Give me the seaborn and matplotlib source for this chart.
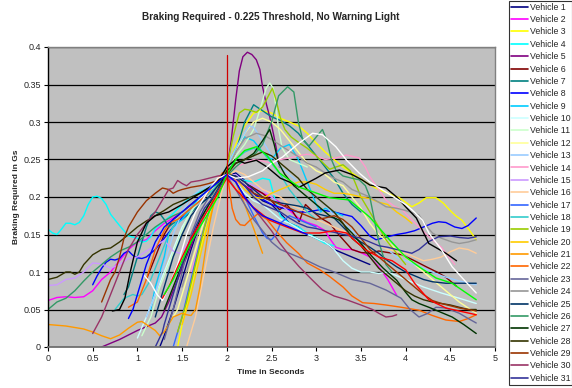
import matplotlib
matplotlib.use("Agg")
import matplotlib.pyplot as plt
from matplotlib.lines import Line2D
from matplotlib.ticker import FormatStrFormatter, MultipleLocator
import numpy as np
import pandas as pd
import seaborn as sns

# ---- braking required (G) against time (s), one trace per vehicle ----
VEHICLE_01 = [(1.25,0.0),(1.3,0.015),(1.4,0.05),(1.5,0.09),(1.6,0.13),(1.7,0.165),(1.8,0.19),(1.9,0.21),(2.0,0.228),(2.1,0.232),(2.2,0.222),(2.3,0.205),(2.4,0.195),(2.5,0.19),(2.6,0.178),(2.7,0.165),(2.8,0.16),(2.9,0.15),(3.0,0.145),(3.1,0.14),(3.2,0.13),(3.3,0.125),(3.4,0.12),(3.5,0.115),(3.6,0.11)]
VEHICLE_02 = [(0,0.062),(0.1,0.066),(0.2,0.067),(0.3,0.066),(0.4,0.067),(0.5,0.075),(0.6,0.09),(0.7,0.1),(0.8,0.115),(0.9,0.13),(1.0,0.14),(1.1,0.143),(1.2,0.155),(1.3,0.165),(1.4,0.172),(1.5,0.18),(1.6,0.19),(1.7,0.198),(1.8,0.205),(1.9,0.215),(2.0,0.225),(2.1,0.222),(2.2,0.215),(2.3,0.21),(2.4,0.205),(2.5,0.2),(2.59,0.193),(2.7,0.182),(2.8,0.172),(2.9,0.166),(3.0,0.162),(3.1,0.155),(3.15,0.145),(3.22,0.133),(3.3,0.13),(3.4,0.13),(3.5,0.126),(3.6,0.12),(3.7,0.107),(3.8,0.09),(3.9,0.069)]
VEHICLE_03 = [(1.45,0.0),(1.5,0.03),(1.6,0.08),(1.7,0.13),(1.8,0.17),(1.9,0.205),(2.0,0.235),(2.1,0.27),(2.2,0.295),(2.3,0.312),(2.4,0.315),(2.5,0.312),(2.6,0.305),(2.7,0.3),(2.8,0.295),(2.9,0.285),(3.0,0.272),(3.1,0.26),(3.2,0.25),(3.3,0.24),(3.4,0.232),(3.5,0.224),(3.6,0.216),(3.7,0.21),(3.8,0.205),(3.93,0.199),(4.0,0.193),(4.07,0.187),(4.15,0.192),(4.23,0.199),(4.34,0.199),(4.42,0.192),(4.49,0.183),(4.56,0.175),(4.63,0.169),(4.7,0.158),(4.79,0.143)]
VEHICLE_04 = [(0,0.157),(0.05,0.152),(0.1,0.15),(0.15,0.157),(0.2,0.165),(0.25,0.165),(0.3,0.163),(0.35,0.166),(0.4,0.175),(0.45,0.19),(0.5,0.2),(0.55,0.201),(0.6,0.198),(0.65,0.19),(0.7,0.177),(0.8,0.162),(0.85,0.155),(0.9,0.148),(1.0,0.145),(1.05,0.14),(1.1,0.141),(1.15,0.147),(1.2,0.158),(1.3,0.168),(1.4,0.178),(1.5,0.19),(1.6,0.2),(1.7,0.207),(1.8,0.212),(1.9,0.22),(2.0,0.228),(2.1,0.225),(2.2,0.222),(2.3,0.22),(2.4,0.225),(2.48,0.223),(2.55,0.192),(2.6,0.175),(2.7,0.165),(2.8,0.16),(2.9,0.152),(3.0,0.145),(3.1,0.138),(3.2,0.135)]
VEHICLE_05 = [(0.6,0.0),(0.7,0.005),(0.8,0.01),(0.9,0.016),(1.0,0.022),(1.1,0.027),(1.2,0.032),(1.27,0.04),(1.35,0.06),(1.45,0.09),(1.55,0.12),(1.65,0.15),(1.75,0.175),(1.85,0.195),(1.95,0.215),(2.0,0.235),(2.05,0.276),(2.1,0.33),(2.14,0.368),(2.18,0.387),(2.23,0.393),(2.28,0.39),(2.33,0.383),(2.37,0.37),(2.4,0.347),(2.44,0.325),(2.48,0.307),(2.52,0.285),(2.55,0.267),(2.59,0.24)]
VEHICLE_06 = [(1.1,0.09),(1.2,0.12),(1.3,0.15),(1.4,0.17),(1.5,0.18),(1.6,0.19),(1.7,0.2),(1.8,0.21),(1.9,0.22),(2.0,0.23),(2.1,0.228),(2.2,0.22),(2.3,0.212),(2.4,0.205),(2.5,0.195),(2.59,0.183),(2.67,0.19),(2.74,0.18),(2.81,0.167),(2.88,0.19),(2.95,0.182),(3.05,0.172),(3.15,0.165),(3.25,0.15),(3.4,0.13),(3.5,0.126),(3.6,0.125),(3.7,0.128),(3.8,0.126),(3.96,0.123),(4.1,0.115),(4.23,0.107),(4.35,0.1),(4.45,0.093),(4.57,0.081)]
VEHICLE_07 = [(0.85,0.07),(0.9,0.08),(1.0,0.12),(1.1,0.16),(1.15,0.175),(1.2,0.18),(1.25,0.178),(1.3,0.17),(1.35,0.16),(1.4,0.165),(1.5,0.17),(1.6,0.18),(1.7,0.19),(1.8,0.2),(1.9,0.21),(2.0,0.228),(2.1,0.26),(2.2,0.3),(2.3,0.323),(2.4,0.315),(2.5,0.307),(2.6,0.302),(2.7,0.295),(2.8,0.285),(2.9,0.27),(3.0,0.255),(3.1,0.24),(3.2,0.225),(3.3,0.205),(3.4,0.19),(3.5,0.18)]
VEHICLE_08 = [(0.5,0.083),(0.55,0.095),(0.6,0.105),(0.65,0.113),(0.7,0.117),(0.75,0.116),(0.8,0.118),(0.85,0.125),(0.9,0.128),(0.95,0.122),(1.0,0.119),(1.05,0.118),(1.1,0.12),(1.2,0.13),(1.3,0.145),(1.4,0.16),(1.5,0.173),(1.6,0.185),(1.7,0.195),(1.8,0.205),(1.9,0.215),(2.0,0.232),(2.1,0.225),(2.2,0.215),(2.3,0.205),(2.4,0.197),(2.5,0.19),(2.6,0.186),(2.7,0.183),(2.8,0.18),(2.9,0.18),(3.04,0.183),(3.2,0.18),(3.3,0.177),(3.4,0.174),(3.5,0.162),(3.6,0.148),(3.67,0.143),(3.8,0.147),(3.9,0.15),(4.0,0.152),(4.1,0.155),(4.2,0.16),(4.3,0.165),(4.37,0.167),(4.45,0.166),(4.55,0.16),(4.63,0.158),(4.7,0.162),(4.79,0.172)]
VEHICLE_09 = [(1.15,0.05),(1.2,0.08),(1.3,0.12),(1.35,0.15),(1.4,0.16),(1.45,0.165),(1.5,0.17),(1.6,0.185),(1.7,0.2),(1.8,0.21),(1.9,0.222),(2.0,0.24),(2.1,0.265),(2.2,0.28),(2.3,0.275),(2.4,0.26),(2.5,0.25),(2.6,0.265),(2.7,0.27),(2.8,0.25),(2.9,0.22),(3.0,0.19),(3.05,0.18),(3.1,0.185),(3.2,0.18),(3.3,0.175)]
VEHICLE_10 = [(1.0,0.012),(1.1,0.04),(1.2,0.07),(1.3,0.1),(1.4,0.13),(1.5,0.16),(1.6,0.18),(1.7,0.198),(1.85,0.213),(2.0,0.23),(2.1,0.22),(2.2,0.205),(2.3,0.195),(2.4,0.19),(2.5,0.18),(2.6,0.17),(2.7,0.165),(2.8,0.158),(2.9,0.15),(3.0,0.145),(3.1,0.14),(3.2,0.13),(3.3,0.115),(3.4,0.105),(3.5,0.1),(3.6,0.1),(3.7,0.098),(3.8,0.1),(3.9,0.095),(4.0,0.09),(4.2,0.08),(4.4,0.072),(4.6,0.065),(4.79,0.058)]
VEHICLE_11 = [(1.05,0.015),(1.15,0.04),(1.25,0.08),(1.35,0.11),(1.45,0.14),(1.55,0.17),(1.65,0.19),(1.75,0.2),(1.85,0.21),(2.0,0.235),(2.1,0.255),(2.2,0.27),(2.3,0.29),(2.38,0.32),(2.44,0.345),(2.48,0.352),(2.52,0.345),(2.55,0.32),(2.58,0.29),(2.62,0.265),(2.7,0.25),(2.8,0.245),(2.9,0.24)]
VEHICLE_12 = [(1.35,0.03),(1.45,0.05),(1.55,0.09),(1.65,0.13),(1.75,0.17),(1.85,0.2),(2.0,0.235),(2.1,0.26),(2.2,0.285),(2.3,0.3),(2.4,0.305),(2.5,0.3),(2.6,0.29),(2.7,0.275),(2.8,0.26),(2.9,0.245),(3.0,0.235),(3.1,0.23),(3.2,0.22),(3.3,0.215),(3.4,0.2),(3.5,0.185),(3.6,0.165),(3.7,0.15),(3.8,0.14),(3.9,0.13),(4.0,0.12),(4.1,0.11),(4.2,0.1),(4.3,0.09),(4.4,0.08),(4.5,0.07),(4.6,0.06),(4.7,0.052),(4.79,0.045)]
VEHICLE_13 = [(1.1,0.04),(1.2,0.07),(1.3,0.11),(1.4,0.15),(1.5,0.18),(1.6,0.2),(1.7,0.21),(1.8,0.215),(1.9,0.22),(2.0,0.24),(2.1,0.265),(2.2,0.285),(2.25,0.295),(2.3,0.293),(2.4,0.275),(2.5,0.255),(2.6,0.24),(2.7,0.23),(2.8,0.22),(2.9,0.21),(3.0,0.2),(3.1,0.19),(3.2,0.175),(3.3,0.165),(3.4,0.155),(3.5,0.145),(3.6,0.14),(3.7,0.135),(3.8,0.13),(3.9,0.12),(4.0,0.115),(4.2,0.105),(4.4,0.095),(4.6,0.088),(4.79,0.083)]
VEHICLE_14 = [(1.6,0.1),(1.7,0.14),(1.8,0.18),(1.9,0.21),(2.0,0.23),(2.1,0.24),(2.2,0.245),(2.3,0.25),(2.4,0.248),(2.5,0.245),(2.6,0.25),(2.7,0.252),(2.8,0.255),(2.9,0.257),(3.0,0.255),(3.1,0.25),(3.22,0.252),(3.34,0.256),(3.48,0.252),(3.55,0.24),(3.6,0.227),(3.7,0.21),(3.78,0.196),(3.87,0.188),(3.96,0.183),(4.05,0.172),(4.15,0.16),(4.26,0.147),(4.4,0.133),(4.55,0.11)]
VEHICLE_15 = [(0,0.082),(0.1,0.083),(0.2,0.09),(0.3,0.092),(0.4,0.1),(0.5,0.112),(0.6,0.111),(0.7,0.105),(0.8,0.11),(0.9,0.118),(1.0,0.12),(1.1,0.128),(1.2,0.135),(1.3,0.142),(1.35,0.135),(1.4,0.128),(1.47,0.125),(1.55,0.135),(1.65,0.155),(1.75,0.175),(1.85,0.195),(1.93,0.212),(2.0,0.228),(2.1,0.23),(2.2,0.22),(2.3,0.215),(2.4,0.21),(2.5,0.2),(2.6,0.19),(2.7,0.18)]
VEHICLE_16 = [(1.55,0.0),(1.65,0.04),(1.75,0.1),(1.85,0.16),(1.95,0.21),(2.0,0.228),(2.1,0.235),(2.2,0.23),(2.3,0.22),(2.4,0.21),(2.5,0.205),(2.6,0.2),(2.7,0.19),(2.8,0.185),(2.9,0.18),(3.0,0.17),(3.2,0.16),(3.4,0.15),(3.6,0.14),(3.8,0.13),(4.0,0.125),(4.1,0.12),(4.2,0.115),(4.3,0.117),(4.4,0.12),(4.5,0.127),(4.6,0.132),(4.7,0.13),(4.79,0.125)]
VEHICLE_17 = [(1.4,0.0),(1.5,0.04),(1.6,0.09),(1.7,0.14),(1.8,0.18),(1.9,0.21),(2.0,0.23),(2.1,0.22),(2.2,0.2),(2.3,0.175),(2.4,0.152),(2.45,0.145),(2.5,0.143),(2.55,0.15),(2.6,0.165),(2.7,0.175),(2.8,0.17),(2.9,0.165),(3.0,0.16)]
VEHICLE_18 = [(0.75,0.05),(0.85,0.065),(0.95,0.07),(1.0,0.068),(1.05,0.07),(1.15,0.09),(1.25,0.12),(1.35,0.15),(1.45,0.17),(1.55,0.18),(1.65,0.19),(1.75,0.2),(1.85,0.21),(2.0,0.23),(2.1,0.25),(2.2,0.26),(2.3,0.265),(2.4,0.26),(2.5,0.245),(2.6,0.23),(2.7,0.21),(2.8,0.195),(2.9,0.18),(3.0,0.17)]
VEHICLE_19 = [(1.45,0.02),(1.55,0.06),(1.65,0.11),(1.75,0.16),(1.85,0.2),(2.0,0.24),(2.07,0.28),(2.14,0.312),(2.2,0.317),(2.25,0.316),(2.33,0.313),(2.4,0.32),(2.44,0.329),(2.51,0.345),(2.55,0.33),(2.6,0.305),(2.65,0.29),(2.72,0.28),(2.8,0.273),(2.9,0.265),(3.0,0.255),(3.08,0.245),(3.15,0.237),(3.22,0.24),(3.3,0.243),(3.38,0.235),(3.45,0.215),(3.5,0.2),(3.6,0.18),(3.7,0.16),(3.78,0.143),(3.9,0.125),(4.0,0.11)]
VEHICLE_20 = [(1.5,0.03),(1.6,0.07),(1.7,0.12),(1.8,0.17),(1.9,0.205),(2.0,0.23),(2.1,0.225),(2.2,0.21),(2.3,0.2),(2.4,0.198),(2.5,0.205),(2.6,0.21),(2.7,0.215),(2.8,0.22),(2.9,0.22),(3.0,0.217),(3.1,0.21),(3.2,0.205),(3.3,0.205),(3.4,0.203),(3.5,0.2),(3.6,0.198),(3.7,0.193),(3.8,0.19),(3.9,0.18),(4.0,0.172),(4.07,0.165)]
VEHICLE_21 = [(0,0.03),(0.1,0.029),(0.2,0.028),(0.3,0.026),(0.4,0.024),(0.5,0.02),(0.6,0.015),(0.7,0.011),(0.8,0.016),(0.9,0.025),(1.0,0.033),(1.05,0.034),(1.1,0.03),(1.2,0.022),(1.25,0.015),(1.3,0.02),(1.35,0.03),(1.4,0.04),(1.5,0.045),(1.55,0.043),(1.6,0.042),(1.65,0.05),(1.7,0.08),(1.75,0.12),(1.8,0.16),(1.85,0.19),(1.9,0.21),(1.95,0.225),(2.0,0.235),(2.05,0.23),(2.1,0.22),(2.2,0.19),(2.3,0.158),(2.4,0.125)]
VEHICLE_22 = [(0.9,0.053),(1.0,0.06),(1.1,0.09),(1.2,0.13),(1.3,0.155),(1.35,0.165),(1.45,0.17),(1.55,0.18),(1.65,0.19),(1.75,0.2),(1.85,0.215),(1.95,0.232),(2.0,0.235),(2.03,0.21),(2.06,0.185),(2.1,0.17),(2.15,0.163),(2.2,0.162),(2.25,0.168),(2.35,0.178),(2.45,0.17),(2.55,0.155),(2.67,0.139),(2.8,0.125),(2.9,0.112),(3.04,0.103),(3.15,0.094),(3.3,0.08),(3.4,0.068),(3.52,0.059),(3.65,0.058),(3.78,0.056),(3.95,0.053),(4.15,0.049),(4.3,0.042),(4.45,0.036),(4.6,0.034),(4.7,0.038),(4.79,0.043)]
VEHICLE_23 = [(1.3,0.01),(1.4,0.05),(1.5,0.1),(1.6,0.15),(1.7,0.18),(1.8,0.2),(1.9,0.215),(2.0,0.228),(2.1,0.21),(2.2,0.19),(2.3,0.17),(2.4,0.155),(2.5,0.14),(2.6,0.13),(2.7,0.125),(2.8,0.12),(2.9,0.115),(3.04,0.107),(3.2,0.1),(3.4,0.09),(3.6,0.085),(3.78,0.076),(3.95,0.065),(4.05,0.05),(4.15,0.04),(4.25,0.045),(4.34,0.053),(4.45,0.052),(4.6,0.045),(4.7,0.038),(4.79,0.032)]
VEHICLE_24 = [(1.5,0.08),(1.6,0.12),(1.7,0.16),(1.8,0.19),(1.9,0.215),(2.0,0.235),(2.1,0.26),(2.2,0.278),(2.33,0.285),(2.42,0.282),(2.51,0.276),(2.65,0.265),(2.81,0.253),(2.9,0.245),(3.0,0.24),(3.1,0.232),(3.2,0.225),(3.3,0.22),(3.4,0.21),(3.5,0.205),(3.6,0.2),(3.7,0.193),(3.78,0.187),(3.9,0.185),(4.0,0.182),(4.15,0.176),(4.22,0.163),(4.3,0.152),(4.4,0.145),(4.52,0.14),(4.6,0.138),(4.7,0.14),(4.79,0.143)]
VEHICLE_25 = [(1.2,0.04),(1.3,0.08),(1.4,0.12),(1.5,0.15),(1.6,0.175),(1.7,0.19),(1.8,0.2),(1.9,0.215),(2.0,0.23),(2.1,0.228),(2.2,0.22),(2.3,0.21),(2.4,0.2),(2.5,0.195),(2.6,0.192),(2.7,0.19),(2.8,0.188),(2.9,0.185),(3.0,0.178),(3.1,0.175),(3.2,0.172),(3.3,0.16),(3.4,0.148),(3.5,0.14),(3.6,0.133),(3.7,0.125),(3.8,0.115),(3.9,0.107),(4.0,0.1),(4.1,0.095),(4.2,0.09),(4.3,0.087),(4.45,0.085),(4.6,0.085),(4.79,0.085)]
VEHICLE_26 = [(0,0.05),(0.1,0.06),(0.2,0.065),(0.3,0.075),(0.4,0.088),(0.5,0.1),(0.6,0.11),(0.7,0.12),(0.8,0.128),(0.9,0.133),(1.0,0.14),(1.1,0.15),(1.2,0.16),(1.3,0.168),(1.4,0.175),(1.5,0.18),(1.6,0.19),(1.7,0.2),(1.8,0.21),(1.9,0.218),(2.0,0.228),(2.1,0.24),(2.2,0.25),(2.3,0.255),(2.4,0.27),(2.5,0.3),(2.58,0.335),(2.68,0.347),(2.75,0.34),(2.8,0.3),(2.85,0.276),(2.92,0.268),(3.0,0.28),(3.07,0.29),(3.12,0.275),(3.17,0.25),(3.22,0.236),(3.3,0.228),(3.4,0.225),(3.48,0.223),(3.55,0.215),(3.6,0.2),(3.65,0.17),(3.7,0.14),(3.78,0.11),(3.85,0.1)]
VEHICLE_27 = [(1.3,0.05),(1.4,0.08),(1.5,0.11),(1.6,0.14),(1.7,0.17),(1.8,0.19),(1.9,0.21),(2.0,0.235),(2.1,0.245),(2.2,0.25),(2.3,0.258),(2.4,0.275),(2.48,0.29),(2.53,0.27),(2.58,0.245),(2.65,0.23),(2.75,0.215),(2.85,0.205),(2.95,0.195),(3.05,0.185),(3.15,0.175),(3.26,0.169),(3.4,0.152),(3.5,0.138),(3.63,0.12),(3.75,0.105),(3.9,0.089),(4.0,0.073),(4.07,0.063),(4.15,0.058),(4.26,0.053),(4.4,0.046),(4.52,0.04),(4.65,0.03),(4.79,0.018)]
VEHICLE_28 = [(0,0.09),(0.1,0.093),(0.2,0.1),(0.25,0.1),(0.3,0.097),(0.35,0.1),(0.4,0.11),(0.5,0.123),(0.6,0.13),(0.7,0.132),(0.8,0.14),(0.9,0.15),(1.0,0.16),(1.1,0.168),(1.2,0.175),(1.3,0.182),(1.4,0.19),(1.5,0.195),(1.6,0.2),(1.7,0.205),(1.8,0.212),(1.9,0.22),(2.0,0.23),(2.1,0.245),(2.2,0.25),(2.3,0.255),(2.4,0.26),(2.5,0.255),(2.6,0.245),(2.7,0.235),(2.8,0.225),(2.9,0.21),(3.0,0.2),(3.1,0.19),(3.2,0.18),(3.3,0.165),(3.4,0.145),(3.5,0.135),(3.6,0.12),(3.7,0.105),(3.8,0.095),(3.9,0.085),(4.0,0.075),(4.1,0.068),(4.2,0.063),(4.3,0.06),(4.4,0.058),(4.5,0.056),(4.6,0.053),(4.7,0.05),(4.79,0.05)]
VEHICLE_29 = [(0.6,0.06),(0.65,0.075),(0.7,0.09),(0.75,0.1),(0.8,0.12),(0.85,0.145),(0.9,0.16),(1.0,0.18),(1.1,0.195),(1.2,0.205),(1.28,0.212),(1.35,0.21),(1.4,0.205),(1.45,0.208),(1.5,0.21),(1.6,0.213),(1.7,0.215),(1.8,0.218),(1.9,0.222),(2.0,0.228),(2.1,0.225),(2.2,0.215),(2.3,0.205),(2.4,0.2),(2.5,0.195),(2.6,0.19),(2.7,0.185),(2.8,0.18),(2.9,0.175),(3.0,0.17),(3.1,0.172),(3.2,0.175),(3.3,0.17),(3.4,0.16),(3.5,0.145),(3.6,0.13),(3.7,0.12),(3.8,0.11),(3.9,0.1),(4.0,0.09),(4.1,0.08),(4.2,0.07),(4.3,0.062),(4.4,0.058),(4.5,0.055),(4.6,0.052),(4.7,0.05),(4.79,0.048)]
VEHICLE_30 = [(0.5,0.018),(0.6,0.04),(0.7,0.07),(0.8,0.1),(0.9,0.13),(1.0,0.15),(1.1,0.165),(1.2,0.18),(1.3,0.2),(1.35,0.21),(1.4,0.212),(1.45,0.222),(1.5,0.218),(1.55,0.215),(1.6,0.22),(1.7,0.222),(1.8,0.225),(1.9,0.228),(2.0,0.23),(2.1,0.22),(2.2,0.2),(2.3,0.185),(2.4,0.17),(2.5,0.155),(2.59,0.139),(2.7,0.122),(2.81,0.107),(2.95,0.09),(3.07,0.076),(3.2,0.068),(3.34,0.063),(3.5,0.056),(3.63,0.05),(3.7,0.045),(3.78,0.04),(3.85,0.041),(3.9,0.043)]
VEHICLE_31 = [(1.2,0.0),(1.28,0.02),(1.3,0.03),(1.35,0.05),(1.45,0.09),(1.55,0.13),(1.65,0.16),(1.75,0.185),(1.85,0.2),(2.0,0.228),(2.1,0.225),(2.2,0.215),(2.3,0.2),(2.4,0.19),(2.5,0.185),(2.6,0.18),(2.7,0.172),(2.8,0.165),(2.9,0.16),(3.0,0.158),(3.1,0.155),(3.2,0.153),(3.3,0.15),(3.4,0.148),(3.5,0.145),(3.6,0.14),(3.7,0.135),(3.8,0.133),(3.9,0.13),(4.0,0.127),(4.07,0.125),(4.15,0.13),(4.25,0.14),(4.37,0.147),(4.5,0.148),(4.6,0.146),(4.7,0.145),(4.79,0.147)]
VEHICLE_32 = [(0.72,0.048),(0.8,0.05),(0.86,0.065),(0.92,0.1),(1.0,0.14),(1.1,0.165),(1.2,0.175),(1.35,0.18),(1.5,0.19),(1.7,0.205),(1.9,0.22),(2.0,0.24),(2.1,0.25),(2.2,0.245),(2.33,0.249),(2.45,0.24),(2.6,0.225),(2.7,0.22),(2.81,0.213),(2.92,0.22),(3.0,0.225),(3.1,0.232),(3.26,0.236),(3.4,0.23),(3.51,0.223),(3.6,0.216),(3.78,0.212),(3.9,0.2),(4.0,0.187),(4.12,0.172),(4.26,0.138),(4.45,0.125),(4.57,0.115)]
VEHICLE_33 = [(1.08,0.095),(1.15,0.085),(1.22,0.07),(1.28,0.062),(1.35,0.08),(1.45,0.11),(1.55,0.15),(1.65,0.18),(1.8,0.21),(1.9,0.225),(2.0,0.23),(2.1,0.225),(2.24,0.227),(2.4,0.235),(2.5,0.245),(2.62,0.253),(2.81,0.272),(2.96,0.285),(3.07,0.283),(3.22,0.267),(3.34,0.249),(3.48,0.232),(3.6,0.22),(3.8,0.205),(4.0,0.19),(4.07,0.183),(4.19,0.169),(4.26,0.152),(4.4,0.13),(4.52,0.107),(4.65,0.09),(4.79,0.072)]
VEHICLE_34 = [(1.28,0.065),(1.35,0.08),(1.47,0.112),(1.6,0.145),(1.7,0.165),(1.8,0.185),(1.9,0.205),(2.0,0.225),(2.1,0.21),(2.29,0.187),(2.48,0.169),(2.67,0.16),(2.85,0.152),(3.04,0.152),(3.2,0.155),(3.34,0.152),(3.45,0.14),(3.56,0.129),(3.7,0.12),(3.85,0.115),(4.0,0.103),(4.1,0.085),(4.26,0.063),(4.45,0.052),(4.6,0.048),(4.79,0.043)]
VEHICLE_35 = [(1.3,0.07),(1.4,0.09),(1.5,0.115),(1.6,0.14),(1.7,0.16),(1.8,0.18),(1.9,0.2),(2.0,0.23),(2.1,0.25),(2.2,0.262),(2.33,0.267),(2.45,0.255),(2.59,0.232),(2.81,0.213),(2.96,0.207),(3.15,0.199),(3.37,0.196),(3.6,0.173),(3.82,0.143),(4.0,0.12),(4.15,0.107),(4.34,0.092),(4.52,0.085),(4.79,0.063)]
VEHICLE_36 = [(0.9,0.038),(0.95,0.05),(1.0,0.07),(1.05,0.09),(1.1,0.11),(1.2,0.14),(1.3,0.16),(1.4,0.17),(1.5,0.18),(1.6,0.19),(1.7,0.2),(1.8,0.21),(1.9,0.22),(2.0,0.23),(2.1,0.22),(2.2,0.2),(2.3,0.185),(2.4,0.175),(2.5,0.17),(2.6,0.165),(2.7,0.16),(2.8,0.155),(2.9,0.15)]

VEHICLES = [VEHICLE_01, VEHICLE_02, VEHICLE_03, VEHICLE_04, VEHICLE_05, VEHICLE_06,
            VEHICLE_07, VEHICLE_08, VEHICLE_09, VEHICLE_10, VEHICLE_11, VEHICLE_12,
            VEHICLE_13, VEHICLE_14, VEHICLE_15, VEHICLE_16, VEHICLE_17, VEHICLE_18,
            VEHICLE_19, VEHICLE_20, VEHICLE_21, VEHICLE_22, VEHICLE_23, VEHICLE_24,
            VEHICLE_25, VEHICLE_26, VEHICLE_27, VEHICLE_28, VEHICLE_29, VEHICLE_30,
            VEHICLE_31, VEHICLE_32, VEHICLE_33, VEHICLE_34, VEHICLE_35, VEHICLE_36]
NAMES = [f"Vehicle {i + 1}" for i in range(len(VEHICLES))]
LEGEND_COUNT = 31

# threshold reached at 2 s; marker line drawn up to 0.39 G
THRESHOLD_TIME = 2.0
THRESHOLD_MARK_TOP = 0.39

COLORS = ["#000080", "#FF00FF", "#FFFF00", "#00FFFF", "#800080", "#800000",
          "#008080", "#0000FF", "#00CCFF", "#CCFFFF", "#CCFFCC", "#FFFF99",
          "#99CCFF", "#FF99CC", "#CC99FF", "#FFCC99", "#3366FF", "#33CCCC",
          "#99CC00", "#FFCC00", "#FF9900", "#FF6600", "#666699", "#969696",
          "#003366", "#339966", "#003300", "#333300", "#993300", "#993366",
          "#333399", "#000000", "#FFFFFF", "#FF0000", "#00FF00", "#0000FF"]

rows = []
for name, trace in zip(NAMES, VEHICLES):
    for order, (t, g) in enumerate(trace):
        rows.append({"vehicle": name, "order": order, "time": t, "braking": g})
df = pd.DataFrame(rows)

sns.set_theme(style="white")
plt.rcParams["font.family"] = ["Liberation Sans", "DejaVu Sans"]

W, H = 572, 388
fig = plt.figure(figsize=(W / 100, H / 100), dpi=100)
ax = fig.add_axes([48 / W, 41 / H, 447 / W, 300 / H])
ax.set_facecolor("#C0C0C0")

palette = dict(zip(NAMES, COLORS))
sns.lineplot(data=df, x="time", y="braking", hue="vehicle", hue_order=NAMES,
             palette=palette, estimator=None, sort=False, legend=False,
             linewidth=1.0, ax=ax)
ax.plot([THRESHOLD_TIME, THRESHOLD_TIME], [0, THRESHOLD_MARK_TOP],
        color="#D00000", linewidth=0.9, zorder=5)

ax.set_xlim(0, 5)
ax.set_ylim(0, 0.4)
ax.xaxis.set_major_locator(MultipleLocator(0.5))
ax.yaxis.set_major_locator(MultipleLocator(0.05))
ax.xaxis.set_major_formatter(FormatStrFormatter("%g"))
ax.yaxis.set_major_formatter(FormatStrFormatter("%g"))
ax.tick_params(axis="both", which="major", labelsize=6.5, length=3, width=0.8,
               color="black", pad=2, bottom=True, left=True)
ax.yaxis.grid(True, color="black", linewidth=0.9)
ax.set_axisbelow(True)
ax.set_xlabel("")
ax.set_ylabel("")
for side in ("top", "right"):
    ax.spines[side].set_color("#808080")
    ax.spines[side].set_linewidth(1.0)
ax.spines["left"].set_color("black")
ax.spines["left"].set_linewidth(1.0)
ax.spines["bottom"].set_color("#707070")
ax.spines["bottom"].set_linewidth(1.3)

fig.text(271 / W, 1 - 17 / H, "Braking Required - 0.225 Threshold, No Warning Light",
         ha="center", va="center", fontsize=7.2, fontweight="bold")
fig.text(271 / W, 1 - 373 / H, "Time in Seconds", ha="center", va="center",
         fontsize=6, fontweight="bold")
fig.text(17 / W, 1 - 197 / H, "Braking Required in Gs", ha="center", va="center",
         rotation=90, fontsize=6, fontweight="bold")

handles = [Line2D([0], [0], color=c, linewidth=1.2) for c in COLORS[:LEGEND_COUNT]]
leg = fig.legend(handles, NAMES[:LEGEND_COUNT], loc="upper left",
                 bbox_to_anchor=(509 / W, 1 - 1 / H), fontsize=6.3, frameon=True,
                 fancybox=False, edgecolor="black", handlelength=1.95,
                 handletextpad=0.2, labelspacing=0.385, borderpad=0.2,
                 borderaxespad=0)
leg.get_frame().set_linewidth(0.8)

fig.savefig("out.png", dpi=100, facecolor="white")
